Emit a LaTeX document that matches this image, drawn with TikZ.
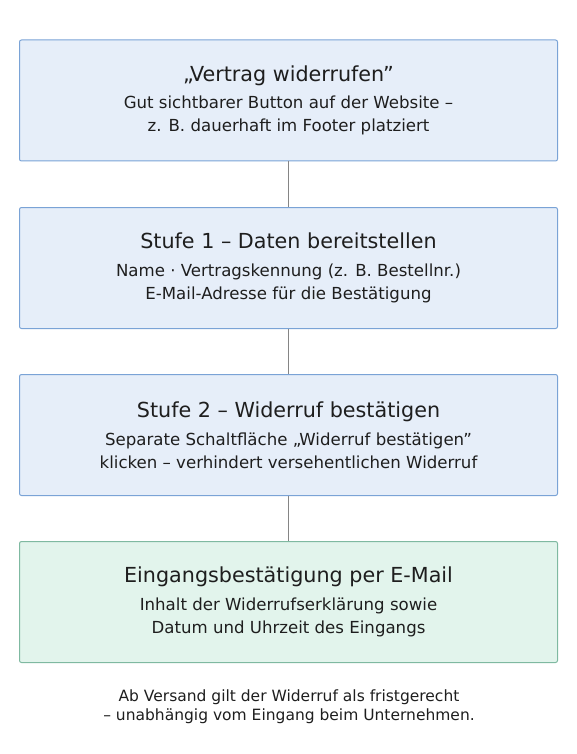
\documentclass[tikz,border=0pt]{standalone}
\usepackage{fontspec}
\setmainfont{DejaVu Sans}
\definecolor{boxblue}{HTML}{7AA3D6}
\definecolor{fillblue}{HTML}{E6EEF9}
\definecolor{boxgreen}{HTML}{7FB9A1}
\definecolor{fillgreen}{HTML}{E2F4EC}
\definecolor{linegray}{HTML}{858585}
\definecolor{textdark}{HTML}{1E1E1E}
\tikzstyle{stepbox}=[draw=boxblue, fill=fillblue, rounded corners=2pt, line width=1pt, minimum width=538pt, minimum height=121pt, inner sep=0pt, align=center, text=textdark, font=\fontsize{16.6}{23}\selectfont]
\tikzstyle{endbox}=[stepbox, draw=boxgreen, fill=fillgreen]
\tikzstyle{link}=[draw=linegray, line width=1.6pt]
\tikzstyle{note}=[align=center, text=textdark, font=\fontsize{15.5}{19}\selectfont]
\newcommand{\steptitle}[1]{{\fontsize{20.7}{23}\selectfont #1}\\[4.5pt]}

\begin{document}
\begin{tikzpicture}[x=1pt, y=-1pt]
    \useasboundingbox (0,0) rectangle (576,754);
    % The four steps, top to bottom
    \node[stepbox] (button) at (288.5,100.5) {\steptitle{„Vertrag widerrufen"}Gut sichtbarer Button auf der Website –\\z. B. dauerhaft im Footer platziert};
    \node[stepbox] (stufea) at (288.5,268) {\steptitle{Stufe 1 – Daten bereitstellen}Name · Vertragskennung (z. B. Bestellnr.)\\E-Mail-Adresse für die Bestätigung};
    \node[stepbox] (stufeb) at (288.5,435) {\steptitle{Stufe 2 – Widerruf bestätigen}Separate Schaltfläche „Widerruf bestätigen"\\klicken – verhindert versehentlichen Widerruf};
    \node[endbox] (mail) at (288.5,602) {\steptitle{Eingangsbestätigung per E-Mail}Inhalt der Widerrufserklärung sowie\\Datum und Uhrzeit des Eingangs};
    % Footnote below the last step
    \node[note] (versand) at (289,707) {Ab Versand gilt der Widerruf als fristgerecht\\– unabhängig vom Eingang beim Unternehmen.};
    % Connect the steps
    \foreach \source/\dest in {button/stufea, stufea/stufeb, stufeb/mail}
        \path[link] (\source) -- (\dest);
\end{tikzpicture}
\end{document}
